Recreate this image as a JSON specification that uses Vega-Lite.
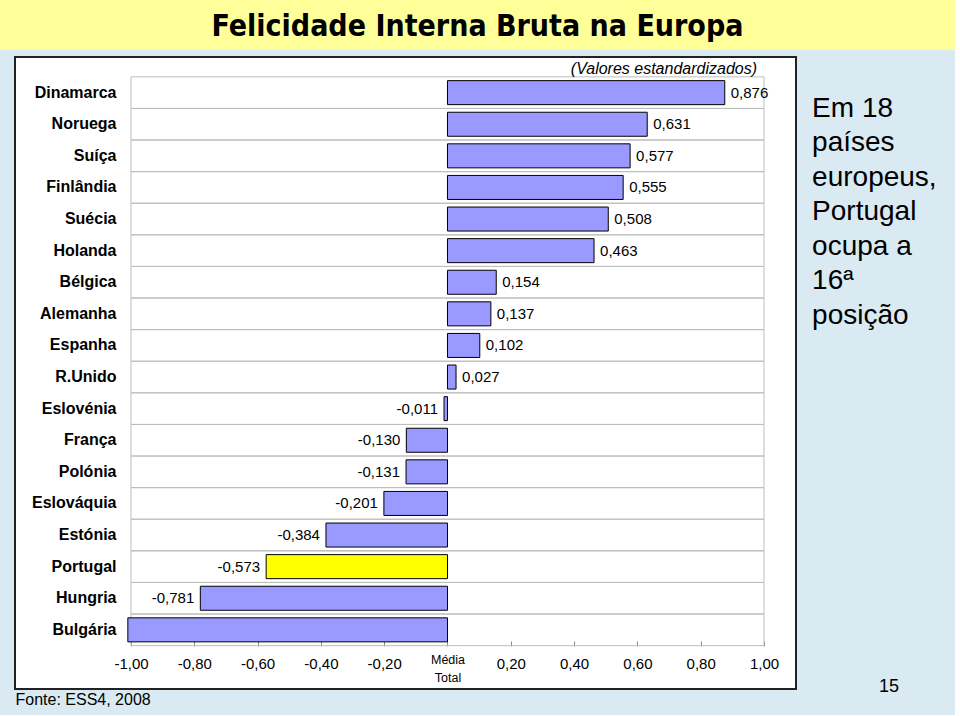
{
  "$schema": "https://vega.github.io/schema/vega-lite/v6.json",
  "background": "#d9eaf3",
  "padding": {"left": 0, "top": 0, "right": 0, "bottom": 7},
  "spacing": 6,
  "config": {
    "locale": {"number": {"decimal": ",", "thousands": ".", "grouping": [3], "currency": ["", " €"], "minus": "-"}},
    "font": "Liberation Sans",
    "text": {"font": "Liberation Sans", "color": "#000000"},
    "view": {"stroke": null}
  },
  "vconcat": [
    {
      "width": 955,
      "height": 50,
      "view": {"fill": "#ffff99", "stroke": null},
      "data": {"values": [{"t": "Felicidade Interna Bruta na Europa"}]},
      "mark": {"type": "text", "font": "DejaVu Sans Condensed", "fontWeight": "bold", "fontSize": 30, "baseline": "middle", "dy": 2, "color": "#000000"},
      "encoding": {"text": {"field": "t", "type": "nominal"}}
    },
    {
      "spacing": 13,
      "hconcat": [
        {
          "width": 1,
          "height": 1,
          "view": {"stroke": null},
          "data": {"values": []},
          "mark": "point"
        },
        {
          "width": 781,
          "height": 632,
          "view": {"fill": "#ffffff", "stroke": "#222222", "strokeWidth": 2},
          "title": {
            "text": "(Valores estandardizados)",
            "orient": "top",
            "anchor": "end",
            "frame": "group",
            "offset": -20,
            "dx": -39,
            "font": "Liberation Sans",
            "fontSize": 16,
            "fontStyle": "italic",
            "fontWeight": "normal",
            "color": "#000000"
          },
          "data": {
            "values": [
              {"country": "Dinamarca", "value": 0.876},
              {"country": "Noruega", "value": 0.631},
              {"country": "Suíça", "value": 0.577},
              {"country": "Finlândia", "value": 0.555},
              {"country": "Suécia", "value": 0.508},
              {"country": "Holanda", "value": 0.463},
              {"country": "Bélgica", "value": 0.154},
              {"country": "Alemanha", "value": 0.137},
              {"country": "Espanha", "value": 0.102},
              {"country": "R.Unido", "value": 0.027},
              {"country": "Eslovénia", "value": -0.011},
              {"country": "França", "value": -0.130},
              {"country": "Polónia", "value": -0.131},
              {"country": "Eslováquia", "value": -0.201},
              {"country": "Estónia", "value": -0.384},
              {"country": "Portugal", "value": -0.573},
              {"country": "Hungria", "value": -0.781},
              {"country": "Bulgária", "value": -1.01}
            ]
          },
          "encoding": {
            "y": {
              "field": "country",
              "type": "nominal",
              "scale": {
                "domain": ["Dinamarca", "Noruega", "Suíça", "Finlândia", "Suécia", "Holanda", "Bélgica", "Alemanha", "Espanha", "R.Unido", "Eslovénia", "França", "Polónia", "Eslováquia", "Estónia", "Portugal", "Hungria", "Bulgária"],
                "paddingInner": 0,
                "paddingOuter": 1.121,
                "align": 0.314
              },
              "axis": {
                "title": null,
                "offset": -116,
                "domain": false,
                "ticks": false,
                "tickSize": 0,
                "grid": false,
                "labelPadding": 15,
                "labelFont": "Liberation Sans",
                "labelFontSize": 16,
                "labelFontWeight": "bold",
                "labelColor": "#000000"
              }
            }
          },
          "layer": [
            {
              "mark": {"type": "rect", "fill": "transparent", "stroke": "#bdbdbd", "strokeWidth": 1},
              "encoding": {
                "x": {"datum": -1, "type": "quantitative"},
                "x2": {"datum": 1}
              }
            },
            {
              "mark": {"type": "bar", "height": {"band": 0.76}, "stroke": "#000000", "strokeWidth": 1},
              "encoding": {
                "x": {
                  "field": "value",
                  "type": "quantitative",
                  "scale": {"domain": [-1.36651, 1.10111], "nice": false, "zero": false},
                  "axis": {
                    "title": "Fonte: ESS4, 2008",
                    "titleX": 0,
                    "titleY": 58,
                    "titleAnchor": "start",
                    "titleAlign": "left",
                    "titleBaseline": "middle",
                    "titleFont": "Liberation Sans",
                    "titleFontSize": 16,
                    "titleFontWeight": "normal",
                    "titleColor": "#000000",
                    "offset": -48,
                    "domain": false,
                    "grid": false,
                    "ticks": true,
                    "tickSize": 5,
                    "tickColor": "#888888",
                    "values": [-1, -0.8, -0.6, -0.4, -0.2, 0, 0.2, 0.4, 0.6, 0.8, 1],
                    "format": ".2f",
                    "labelExpr": "datum.value === 0 ? ['Média', 'Total'] : datum.label",
                    "labelFont": "Liberation Sans",
                    "labelFontSize": {"condition": {"test": "datum.value === 0", "value": 12.5}, "value": 15},
                    "labelBaseline": {"condition": {"test": "datum.value === 0", "value": "alphabetic"}, "value": "middle"},
                    "labelColor": "#000000",
                    "labelPadding": 17,
                    "labelLineHeight": 18,
                    "labelFlush": false,
                    "labelOverlap": false
                  }
                },
                "x2": {"datum": 0},
                "color": {"condition": {"test": "datum.country === 'Portugal'", "value": "#ffff00"}, "value": "#9999ff"}
              }
            },
            {
              "transform": [{"filter": "datum.value >= 0"}],
              "mark": {"type": "text", "align": "left", "baseline": "middle", "dx": 6, "fontSize": 15},
              "encoding": {
                "x": {"field": "value", "type": "quantitative"},
                "text": {"field": "value", "type": "quantitative", "format": ".3f"}
              }
            },
            {
              "transform": [{"filter": "datum.value < 0 && datum.value > -1"}],
              "mark": {"type": "text", "align": "right", "baseline": "middle", "dx": -6, "fontSize": 15},
              "encoding": {
                "x": {"field": "value", "type": "quantitative"},
                "text": {"field": "value", "type": "quantitative", "format": ".3f"}
              }
            },
            {
              "data": {"values": [{"note": ["Em 18", "países", "europeus,", "Portugal", "ocupa a", "16ª", "posição"]}]},
              "mark": {"type": "text", "align": "left", "baseline": "alphabetic", "fontSize": 28, "lineHeight": 34.5, "dy": 24},
              "encoding": {
                "x": {"datum": 1.152, "type": "quantitative"},
                "y": {"datum": "Dinamarca", "type": "nominal"},
                "text": {"field": "note"}
              }
            },
            {
              "data": {"values": [{"page": "15"}]},
              "mark": {"type": "text", "align": "center", "baseline": "middle", "fontSize": 18, "dy": 57},
              "encoding": {
                "x": {"datum": 1.395, "type": "quantitative"},
                "y": {"datum": "Bulgária", "type": "nominal"},
                "text": {"field": "page"}
              }
            }
          ]
        }
      ]
    }
  ]
}
